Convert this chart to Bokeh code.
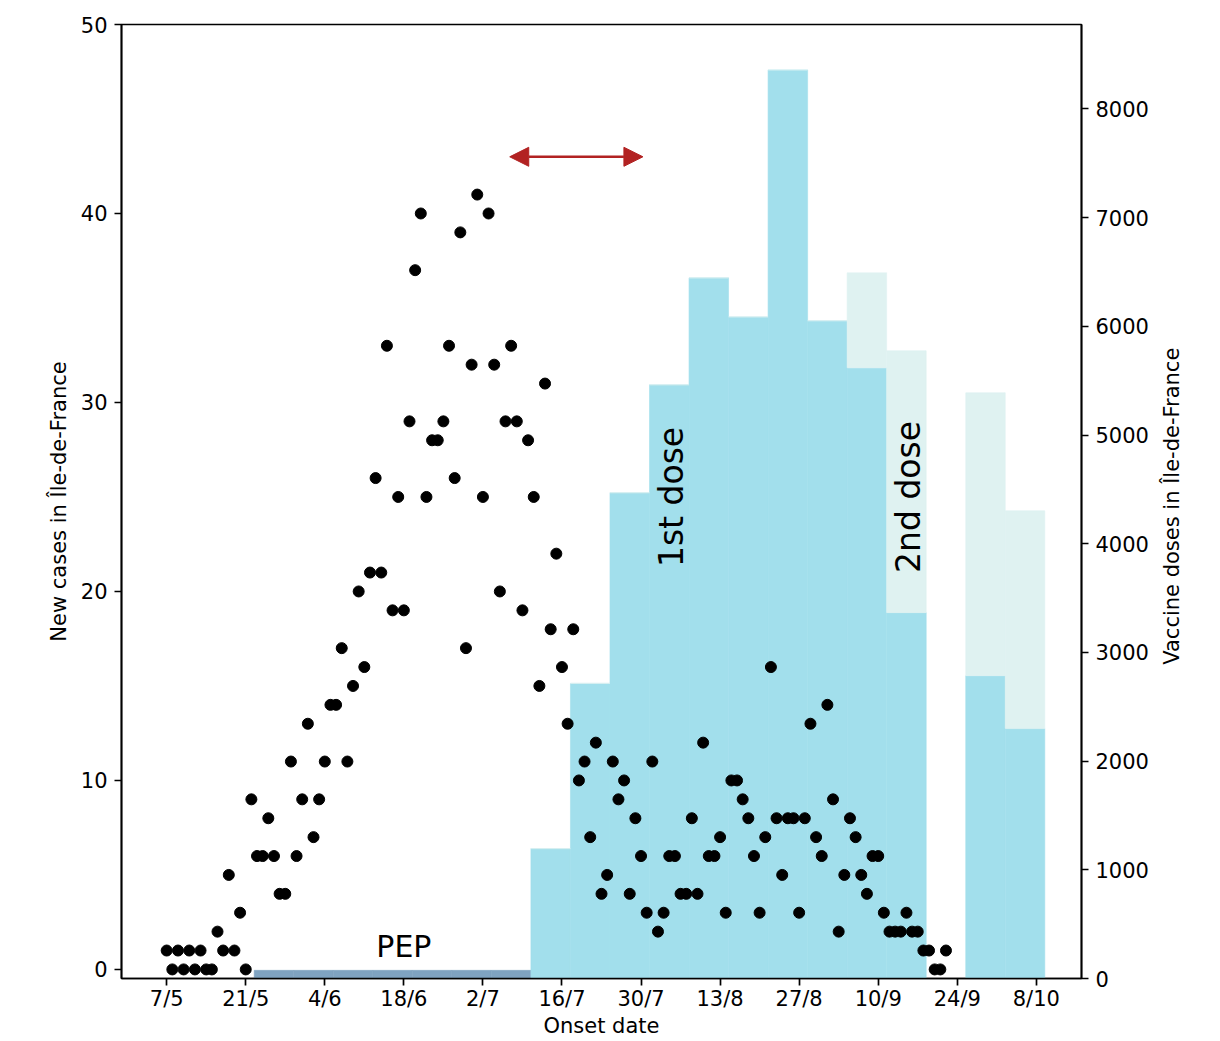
import numpy as np
import pandas as pd
from bokeh.plotting import figure
from bokeh.models import Range1d, LinearAxis, FixedTicker, Arrow, NormalHead
from bokeh.core.properties import value
from bokeh.embed import file_html
from bokeh.resources import INLINE

# ---------------- data ----------------
first_case_date = "2022-05-07"
new_cases = [1, 0, 1, 0, 1, 0, 1, 0, 0, 2, 1, 5, 1, 3, 0, 9, 6, 6, 8, 6,
             4, 4, 11, 6, 9, 13, 7, 9, 11, 14, 14, 17, 11, 15, 20, 16, 21, 26, 21, 33,
             19, 25, 19, 29, 37, 40, 25, 28, 28, 29, 33, 26, 39, 17, 32, 41, 25, 40, 32, 20,
             29, 33, 29, 19, 28, 25, 15, 31, 18, 22, 16, 13, 18, 10, 11, 7, 12, 4, 5, 11,
             9, 10, 4, 8, 6, 3, 11, 2, 3, 6, 6, 4, 4, 8, 4, 12, 6, 6, 7, 3,
             10, 10, 9, 8, 6, 3, 7, 16, 8, 5, 8, 8, 3, 8, 13, 7, 6, 14, 9, 2,
             5, 8, 7, 5, 4, 6, 6, 3, 2, 2, 2, 3, 2, 2, 1, 1, 0, 0, 1]

pep_weeks = ["2022-05-23", "2022-05-30", "2022-06-06", "2022-06-13",
             "2022-06-20", "2022-06-27", "2022-07-04"]
pep_doses = [75, 75, 75, 75, 75, 75, 75]

dose_weeks = ["2022-07-11", "2022-07-18", "2022-07-25", "2022-08-01", "2022-08-08",
              "2022-08-15", "2022-08-22", "2022-08-29", "2022-09-05", "2022-09-12",
              "2022-09-19", "2022-09-26", "2022-10-03"]
first_doses = [1195, 2715, 4469, 5462, 6446, 6087, 8359, 6051, 5618, 3366, 0, 2786, 2299]
second_doses = [0, 0, 0, 0, 0, 0, 0, 0, 874, 2409, 0, 2603, 2004]

tick_dates = ["2022-05-07", "2022-05-21", "2022-06-04", "2022-06-18", "2022-07-02",
              "2022-07-16", "2022-07-30", "2022-08-13", "2022-08-27", "2022-09-10",
              "2022-09-24", "2022-10-08"]
tick_labels = ["7/5", "21/5", "4/6", "18/6", "2/7", "16/7", "30/7", "13/8", "27/8",
               "10/9", "24/9", "8/10"]

arrow_start = "2022-07-06 18:00"
arrow_end = "2022-07-30 08:00"
arrow_level = 43

label_1st = ("1st dose", "2022-08-04 11:00", 25)
label_2nd = ("2nd dose", "2022-09-15 10:00", 25)
label_pep = ("PEP", "2022-06-18", 1.22)

# ---------------- helpers ----------------
origin = pd.Timestamp(first_case_date)


def day(d):
    return (pd.Timestamp(d) - origin) / pd.Timedelta(days=1)


case_days = [float(i) for i in range(len(new_cases))]
pep_left = [day(d) - 0.5 for d in pep_weeks]
pep_right = [x + 7 for x in pep_left]
dose_left = [day(d) - 0.5 for d in dose_weeks]
dose_right = [x + 7 for x in dose_left]
total_doses = [a + b for a, b in zip(first_doses, second_doses)]

FONT = "DejaVu Sans"
CYAN = "#a2dfec"
LIGHT = "#dff2f1"
PEPC = "#7fa3c1"
FS = "21px"

X0, X1 = -8, 162
Y0, Y1 = -0.48, 50
doses_top = 1.05 * max(total_doses)

p = figure(width=1220, height=1041, output_backend="svg", toolbar_location=None,
           x_range=Range1d(X0, X1), y_range=Range1d(Y0, Y1),
           min_border_left=121, min_border_right=139, min_border_top=24,
           min_border_bottom=63)
p.extra_y_ranges = {"doses": Range1d(0, doses_top)}
p.grid.visible = False
p.outline_line_color = "black"
p.outline_line_width = 1.7
p.background_fill_color = "white"
p.border_fill_color = "white"

# bars (right axis)
p.quad(left=pep_left, right=pep_right, bottom=[0] * len(pep_doses), top=pep_doses,
       y_range_name="doses", fill_color=PEPC, line_color=PEPC, line_width=0.6)
p.quad(left=dose_left, right=dose_right, bottom=[0] * len(first_doses), top=first_doses,
       y_range_name="doses", fill_color=CYAN, line_color=CYAN, line_width=0.6)
p.quad(left=dose_left, right=dose_right, bottom=first_doses, top=total_doses,
       y_range_name="doses", fill_color=LIGHT, line_color=LIGHT, line_width=0.6)

# daily cases
p.scatter(x=case_days, y=new_cases, size=11, color="black")

# arrow
p.add_layout(Arrow(x_start=day(arrow_start), y_start=arrow_level,
                   x_end=day(arrow_end), y_end=arrow_level,
                   line_color="#b22222", line_width=2.5,
                   start=NormalHead(size=19, fill_color="#b22222", line_color="#b22222"),
                   end=NormalHead(size=19, fill_color="#b22222", line_color="#b22222")))

# texts
for txt, d, yv in (label_1st, label_2nd):
    p.text(x=[day(d)], y=[yv], text=[txt], angle=np.pi / 2, text_align="center",
           text_baseline="middle", text_font=value(FONT), text_font_size="33px",
           text_color="black")
p.text(x=[day(label_pep[1])], y=[label_pep[2]], text=[label_pep[0]], text_align="center",
       text_baseline="middle", text_font=value(FONT), text_font_size="30px",
       text_color="black")

# axes
right_axis = LinearAxis(y_range_name="doses")
p.add_layout(right_axis, "right")

right_title = "Vaccine doses in Île-de-France"

tick_days = [day(d) for d in tick_dates]
p.xaxis.ticker = FixedTicker(ticks=tick_days)
p.xaxis.major_label_overrides = {int(t): lab for t, lab in zip(tick_days, tick_labels)}
p.xaxis.axis_label = "Onset date"
p.yaxis[0].ticker = FixedTicker(ticks=[0, 10, 20, 30, 40, 50])
p.yaxis[0].axis_label = "New cases in Île-de-France"
right_axis.ticker = FixedTicker(ticks=[0, 1000, 2000, 3000, 4000, 5000, 6000, 7000, 8000])

for ax in [p.xaxis[0], p.yaxis[0], right_axis]:
    ax.axis_line_width = 1.7
    ax.axis_line_color = "black"
    ax.major_tick_line_width = 1.7
    ax.major_tick_line_color = "black"
    ax.major_tick_out = 7
    ax.major_tick_in = 0
    ax.minor_tick_line_color = None
    ax.major_label_standoff = 7
    ax.major_label_text_font = FONT
    ax.major_label_text_font_size = FS
    ax.major_label_text_color = "black"
    ax.axis_label_text_font = FONT
    ax.axis_label_text_font_size = FS
    ax.axis_label_text_font_style = "normal"
    ax.axis_label_text_color = "black"
    ax.axis_label_standoff = 7

# right-hand title reads upwards like the left one.  Bokeh starts a label with a
# numeric angle at its anchor, so anchor it at the axis start and lead it with
# no-break spaces to bring the visible words to the middle of the axis.
right_axis.axis_label_orientation = -1.5 * np.pi
right_axis.axis_label_standoff = 20
if "axis_label_align" in right_axis.properties():
    right_axis.axis_label_align = "start"
    right_axis.axis_label = "\u00a0" * 47 + right_title
else:
    right_axis.axis_label = right_title

p.xaxis.major_label_standoff = 1
p.xaxis.axis_label_standoff = 0

open("out.html", "w").write(file_html(p, INLINE))
